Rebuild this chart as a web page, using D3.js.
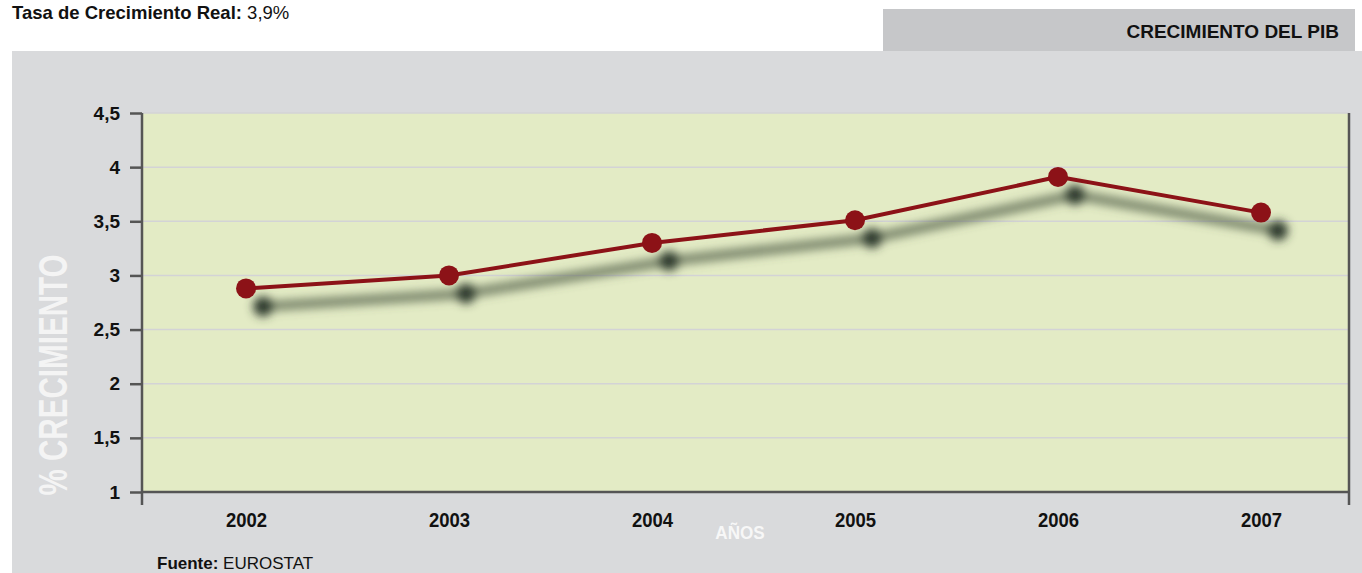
<!DOCTYPE html>
<html><head><meta charset="utf-8">
<script src="https://cdn.jsdelivr.net/npm/d3@7"></script>
<style>
body{margin:0;background:#fff;}
text{font-family:"Liberation Sans",Arial,sans-serif;}
</style></head>
<body>
<svg id="c" width="1362" height="573"></svg>
<script>
const years = ["2002","2003","2004","2005","2006","2007"];
const growth = [2.88, 3.0, 3.3, 3.51, 3.91, 3.58];
const yTicks = [1, 1.5, 2, 2.5, 3, 3.5, 4, 4.5];
const yTickLabels = ["1","1,5","2","2,5","3","3,5","4","4,5"];

(function(){
const svg = d3.select("#c");
const fmt = v => yTickLabels[yTicks.indexOf(v)];

// background panel
svg.append("rect").attr("x",12).attr("y",51).attr("width",1350).attr("height",522).attr("fill","#d9dadc");
svg.append("rect").attr("x",883).attr("y",9).attr("width",472).attr("height",42).attr("fill","#c6c7c9");
svg.append("text").attr("x",1339).attr("y",38).attr("text-anchor","end")
  .attr("font-weight","bold").attr("font-size",19).attr("fill","#111").text("CRECIMIENTO DEL PIB");

const t = svg.append("text").attr("x",12).attr("y",19).attr("font-size",18.5).attr("fill","#111");
t.append("tspan").attr("font-weight","bold").text("Tasa de Crecimiento Real: ");
t.append("tspan").text("3,9%");

const pL = 142, pR = 1349, pT = 113, pB = 492;
const x = d3.scalePoint().domain(years).range([246, 1261]);
const y = d3.scaleLinear().domain([1, 4.5]).range([pB, pT]);

svg.append("rect").attr("x",pL).attr("y",pT).attr("width",pR-pL).attr("height",pB-pT).attr("fill","#e3ebc5");

// grid
svg.append("g").selectAll("line").data(yTicks.filter(v=>v>1)).join("line")
  .attr("x1",pL).attr("x2",pR).attr("y1",d=>y(d)).attr("y2",d=>y(d))
  .attr("stroke","#d3d3d6").attr("stroke-width",1.5);

// axes
const ya = svg.append("g").attr("transform",`translate(${pL},0)`)
  .call(d3.axisLeft(y).tickValues(yTicks).tickFormat(fmt).tickSize(12).tickPadding(10));
ya.select(".domain").remove();
ya.selectAll(".tick line").attr("stroke","#555").attr("stroke-width",2.5);
ya.selectAll(".tick text").attr("font-size",19).attr("font-weight","bold").attr("fill","#111")
  .attr("font-family","'Liberation Sans',Arial,sans-serif");

svg.append("line").attr("x1",pL).attr("x2",pL).attr("y1",pT).attr("y2",505).attr("stroke","#555").attr("stroke-width",2.5);
svg.append("line").attr("x1",pR).attr("x2",pR).attr("y1",pT).attr("y2",505).attr("stroke","#555").attr("stroke-width",2.5);
svg.append("line").attr("x1",pL).attr("x2",pR).attr("y1",pB).attr("y2",pB).attr("stroke","#555").attr("stroke-width",2.5);

const xa = svg.append("g").attr("transform",`translate(0,${pB})`)
  .call(d3.axisBottom(x).tickSize(0).tickPadding(20));
xa.select(".domain").remove();
xa.selectAll(".tick text").attr("font-size",21).attr("font-weight","bold").attr("fill","#111")
  .attr("transform","scale(0.88,1)")
  .attr("font-family","'Liberation Sans',Arial,sans-serif");

// shadow
const defs = svg.append("defs");
defs.append("filter").attr("id","blur").attr("x","-20%").attr("y","-50%").attr("width","140%").attr("height","200%")
  .append("feGaussianBlur").attr("stdDeviation",5);

const data = years.map((yr,i)=>({yr, v:growth[i]}));
const line = d3.line().x(d=>x(d.yr)).y(d=>y(d.v));

const sh = svg.append("g").attr("transform","translate(17,18)").attr("filter","url(#blur)");
sh.append("path").datum(data).attr("d",line).attr("fill","none").attr("stroke","#56634c").attr("stroke-width",10).attr("opacity",0.75);
sh.selectAll("circle").data(data).join("circle").attr("cx",d=>x(d.yr)).attr("cy",d=>y(d.v)).attr("r",10).attr("fill","#2f3a2d");

svg.append("path").datum(data).attr("d",line).attr("fill","none").attr("stroke","#8c1217").attr("stroke-width",4);
svg.selectAll("circle.pt").data(data).join("circle").attr("class","pt")
  .attr("cx",d=>x(d.yr)).attr("cy",d=>y(d.v)).attr("r",10).attr("fill","#8c1217");

// axis titles
svg.append("text").attr("transform","translate(67,375) rotate(-90) scale(0.74,1)").attr("text-anchor","middle")
  .attr("font-size",40).attr("font-weight","bold").attr("fill","#f4f4f4").text("% CRECIMIENTO");
svg.append("text").attr("transform","translate(740,539) scale(0.9,1)").attr("text-anchor","middle")
  .attr("font-size",19).attr("font-weight","bold").attr("fill","#f7f7f7").text("AÑOS");

const f = svg.append("text").attr("x",157).attr("y",569).attr("font-size",17).attr("fill","#111");
f.append("tspan").attr("font-weight","bold").text("Fuente: ");
f.append("tspan").text("EUROSTAT");
})();
</script>
</body></html>
